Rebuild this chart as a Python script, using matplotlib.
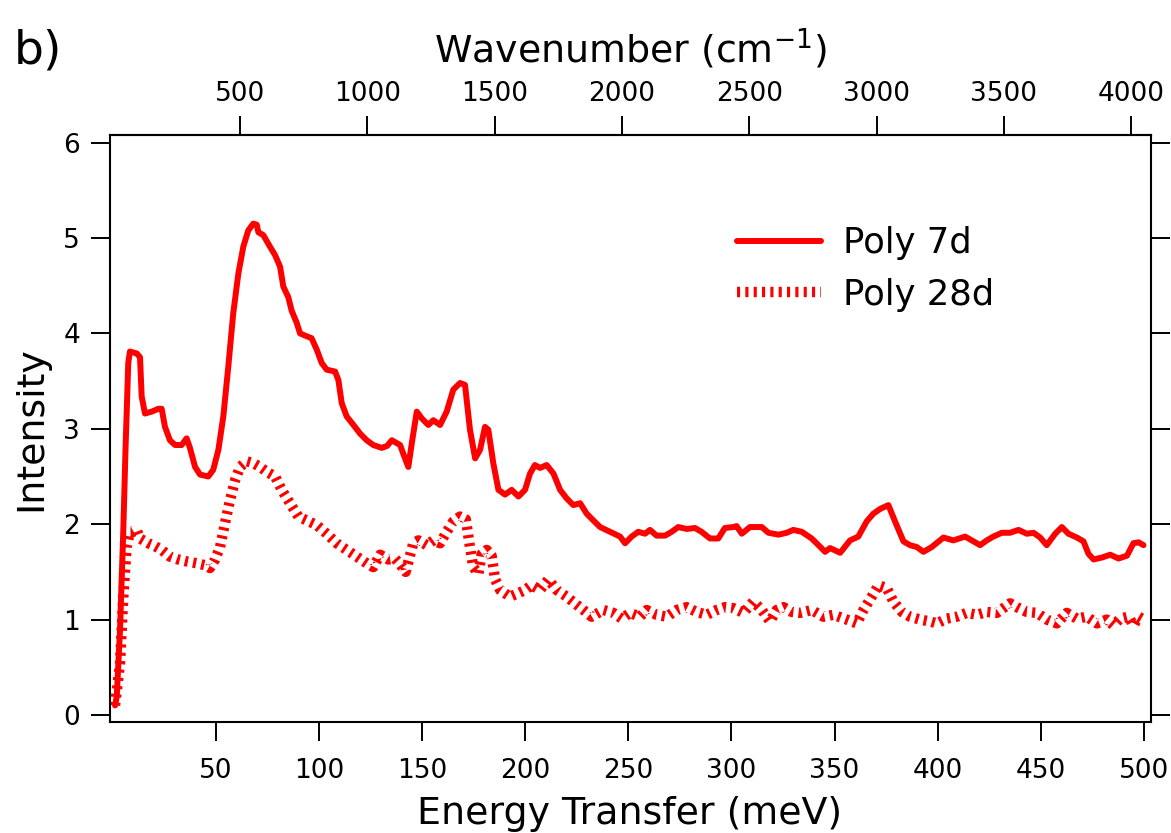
import matplotlib
matplotlib.use("Agg")
import matplotlib.pyplot as plt
import numpy as np

plt.rcParams['font.family'] = ['DejaVu Sans']
plt.rcParams['mathtext.fontset'] = 'dejavusans'

# ---------------- data ----------------
energy_7d = [1.1, 1.9, 3.5, 5.1, 6.2, 7.5, 8.3, 11.6, 13.2, 14.0, 15.6, 18.9, 22.1, 23.7, 25.3, 27.7,
             30.2, 33.4, 35.8, 37.4, 39.9, 42.3, 46.3, 48.7, 51.2, 53.6, 56.0, 58.4, 60.9, 63.3, 65.7,
             68.1, 69.8, 70.6, 73.0, 76.2, 78.7, 81.1, 82.7, 85.1, 86.7, 89.2, 90.8, 94.0, 96.4, 98.9,
             101.3, 103.7, 107.8, 109.4, 111.0, 113.4, 116.7, 119.9, 123.1, 126.3, 130.4, 133.0, 135.3,
             139.3, 141.0, 143.3, 145.0, 147.4, 149.8, 153.0, 155.4, 158.7, 161.9, 165.1, 168.4, 170.8,
             173.2, 175.7, 178.1, 180.5, 182.1, 184.5, 187.0, 190.2, 193.4, 196.7, 199.9, 202.3, 204.7,
             207.2, 210.4, 213.7, 216.9, 220.1, 223.3, 226.6, 229.8, 233.0, 236.3, 241.1, 246.0, 248.4,
             251.6, 254.8, 258.1, 260.5, 263.7, 267.8, 271.0, 274.2, 278.3, 282.3, 285.5, 289.6, 293.6,
             296.8, 300.9, 302.5, 305.0, 309.0, 314.7, 317.9, 322.8, 326.8, 330.0, 334.1, 338.9, 342.2,
             345.4, 347.8, 352.7, 357.5, 361.5, 365.6, 368.8, 372.1, 376.1, 379.3, 383.4, 386.6, 389.9,
             393.1, 397.1, 402.8, 407.6, 413.3, 416.5, 420.6, 423.8, 427.0, 431.1, 435.1, 439.2, 443.2,
             446.5, 449.7, 452.9, 457.0, 460.2, 463.4, 467.5, 470.7, 473.1, 475.6, 479.6, 483.7, 487.7,
             491.8, 494.9, 497.4, 499.8]
intensity_7d = [0.10, 0.19, 0.89, 1.94, 2.81, 3.69, 3.81, 3.79, 3.75, 3.34, 3.16, 3.18, 3.21, 3.21, 3.02, 2.88,
                2.83, 2.83, 2.90, 2.80, 2.60, 2.52, 2.50, 2.57, 2.78, 3.13, 3.65, 4.21, 4.63, 4.91, 5.08,
                5.15, 5.14, 5.06, 5.03, 4.91, 4.82, 4.70, 4.49, 4.38, 4.24, 4.11, 4.00, 3.97, 3.95, 3.83,
                3.69, 3.62, 3.60, 3.51, 3.27, 3.13, 3.04, 2.95, 2.88, 2.83, 2.80, 2.82, 2.88,
                2.83, 2.73, 2.60, 2.85, 3.18, 3.11, 3.04, 3.09, 3.04, 3.18, 3.41, 3.48, 3.46,
                2.99, 2.69, 2.78, 3.02, 2.99, 2.64, 2.36, 2.31, 2.36, 2.29, 2.36, 2.53, 2.62,
                2.59, 2.62, 2.53, 2.36, 2.27, 2.20, 2.22, 2.11, 2.04, 1.97, 1.92, 1.87, 1.80,
                1.87, 1.92, 1.90, 1.94, 1.88, 1.88, 1.92, 1.97, 1.95, 1.96, 1.92, 1.85, 1.85,
                1.96, 1.97, 1.98, 1.90, 1.97, 1.97, 1.91, 1.89, 1.91, 1.94, 1.92, 1.85, 1.78,
                1.71, 1.75, 1.70, 1.83, 1.87, 2.03, 2.11, 2.16, 2.20, 2.03, 1.82, 1.78, 1.76,
                1.71, 1.76, 1.86, 1.83, 1.87, 1.83, 1.78, 1.83, 1.87, 1.91, 1.91, 1.94, 1.90,
                1.91, 1.86, 1.78, 1.90, 1.97, 1.90, 1.86, 1.82, 1.69, 1.63, 1.65, 1.68, 1.64,
                1.67, 1.80, 1.81, 1.78]

energy_28d = [1.1, 3.5, 5.1, 6.7, 8.3, 9.9, 11.6, 13.2, 15.6, 17.2, 19.6, 23.7, 27.7, 31.8, 35.8, 40.7,
              44.7, 47.1, 49.6, 52.0, 54.4, 56.8, 59.3, 61.7, 64.9, 68.1, 71.4, 74.6, 78.7, 81.9, 85.9,
              90.0, 94.0, 98.9, 103.7, 108.6, 113.4, 118.3, 123.1, 126.3, 129.6, 133.6, 136.8, 139.3,
              142.0, 145.7, 148.2, 152.2, 155.4, 158.7, 161.9, 165.1, 168.4, 171.2, 173.2, 174.8, 177.3,
              178.9, 181.3, 183.7, 185.4, 187.8, 192.6, 195.9, 199.9, 203.1, 207.2, 211.2, 215.2, 220.1,
              224.1, 228.2, 232.2, 237.9, 242.7, 246.8, 250.8, 255.6, 258.9, 263.7, 268.6, 273.4, 278.3,
              283.1, 288.0, 292.8, 296.9, 300.9, 305.8, 310.6, 314.7, 318.7, 321.9, 325.2, 329.2, 333.3,
              338.9, 344.6, 349.5, 355.9, 360.8, 364.0, 368.0, 371.3, 375.3, 378.5, 382.6, 386.6, 391.5,
              396.3, 399.6, 404.4, 409.3, 414.1, 419.0, 423.8, 428.7, 435.1, 438.4, 443.2, 448.1, 452.9,
              457.8, 462.6, 467.5, 472.3, 477.2, 482.0, 485.2, 488.5, 492.5, 495.0, 497.4, 499.8]
intensity_28d = [0.10, 0.54, 1.24, 1.76, 1.92, 1.92, 1.94, 1.85, 1.82, 1.80, 1.78, 1.73, 1.66, 1.63, 1.61, 1.59,
                 1.57, 1.54, 1.63, 1.76, 2.01, 2.25, 2.46, 2.60, 2.66, 2.64, 2.60, 2.55, 2.50, 2.36, 2.22,
                 2.08, 2.04, 1.99, 1.90, 1.80, 1.73, 1.66, 1.59, 1.55, 1.68, 1.63, 1.64, 1.58,
                 1.50, 1.80, 1.83, 1.78, 1.83, 1.80, 1.92, 2.03, 2.08, 2.05, 1.76, 1.55, 1.48,
                 1.69, 1.73, 1.67, 1.42, 1.31, 1.24, 1.27, 1.31, 1.36, 1.31, 1.42, 1.31, 1.24,
                 1.17, 1.10, 1.03, 1.10, 1.07, 1.01, 1.07, 1.03, 1.10, 1.05, 1.03, 1.10, 1.13,
                 1.08, 1.05, 1.10, 1.13, 1.12, 1.07, 1.19, 1.10, 0.98, 1.10, 1.13, 1.08, 1.07,
                 1.10, 1.03, 1.05, 1.00, 0.96, 1.10, 1.24, 1.36, 1.33, 1.19, 1.08, 1.03, 1.00,
                 0.98, 0.96, 1.01, 1.03, 1.07, 1.05, 1.08, 1.07, 1.17, 1.13, 1.08, 1.07, 1.00,
                 0.96, 1.07, 1.01, 1.03, 0.96, 1.00, 0.94, 1.01, 1.03, 0.94, 1.03, 1.00]

series_labels = ["Poly 7d", "Poly 28d"]
energy_ticks = [50, 100, 150, 200, 250, 300, 350, 400, 450, 500]
intensity_ticks = [0, 1, 2, 3, 4, 5, 6]
wavenumber_ticks = [500, 1000, 1500, 2000, 2500, 3000, 3500, 4000]
MEV_TO_CM = 8.1

# ---------------- figure ----------------
W, H = 1171, 833
fig = plt.figure(figsize=(W / 100, H / 100), dpi=100)
ax = fig.add_axes([109.5 / W, 1 - 722.3 / H, (1150.5 - 109.5) / W, (722.3 - 135) / H])

red = '#ff0000'
ax.plot(energy_7d, intensity_7d, color=red, lw=4.3, solid_joinstyle='round',
        solid_capstyle='round', label=series_labels[0])
ax.plot(energy_28d, intensity_28d, color=red, lw=7.5, linestyle=(0, (0.3, 0.5)),
        dash_capstyle='butt', label=series_labels[1])

ax.set_xlim(-1.6, 503.2)
ax.set_ylim(-0.077, 6.08)

ax.set_xticks(energy_ticks)
ax.set_yticks(intensity_ticks)

for sp in ax.spines.values():
    sp.set_linewidth(1.5)

ax.tick_params(axis='x', which='both', direction='out', length=13.7, width=1.4,
               labelsize=19, pad=12, top=False)
ax.tick_params(axis='y', which='both', direction='out', length=13.7, width=1.4,
               labelsize=19, pad=7.5, left=True, right=True, labelright=False)

ax.set_xlabel('Energy Transfer (meV)', fontsize=27.3, labelpad=9)
ax.set_ylabel('Intensity', fontsize=27.3, labelpad=10)

secax = ax.secondary_xaxis('top', functions=(lambda e: np.asarray(e) * MEV_TO_CM,
                                              lambda w: np.asarray(w) / MEV_TO_CM))
secax.set_xticks(wavenumber_ticks)
secax.tick_params(axis='x', direction='out', length=13.7, width=1.4, labelsize=19, pad=6.5)
secax.spines['top'].set_linewidth(1.5)
secax.set_xlabel(r'Wavenumber (cm$^{\mathregular{-1}}$)', fontsize=27.3, labelpad=13)

leg = ax.legend(loc='upper left', bbox_to_anchor=(0.603, 0.845), frameon=False,
                fontsize=25.5, handlelength=2.37, handletextpad=0.62, labelspacing=0.5,
                borderpad=0, borderaxespad=0)

fig.text(13.5 / W, 1 - 63 / H, 'b)', fontsize=34, va='baseline', ha='left')

fig.savefig('out.png', dpi=100)
